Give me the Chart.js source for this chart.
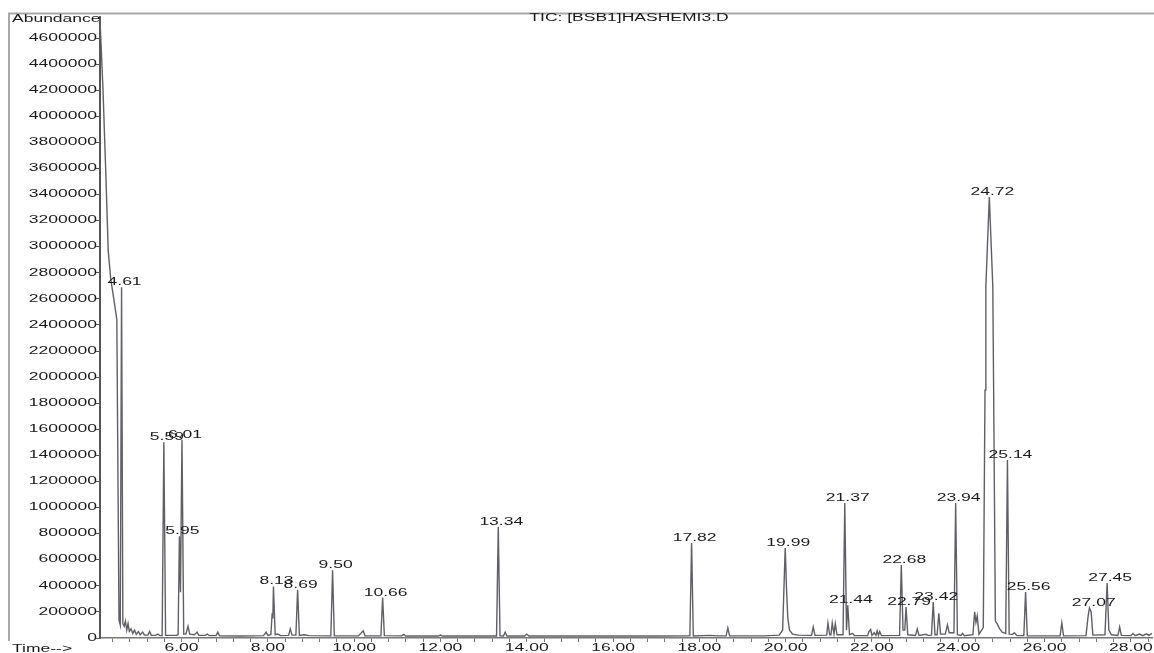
<!DOCTYPE html>
<html>
<head>
<meta charset="utf-8">
<script src="https://cdn.jsdelivr.net/npm/chart.js@4.4.1/dist/chart.umd.min.js"></script>
<style>
html,body{margin:0;padding:0;background:#fff;}
#wrap{width:1154px;height:653px;}
</style>
</head>
<body>
<div id="wrap"><canvas id="tic" width="1154" height="653"></canvas></div>
<script>
/* DATA : retention time (min) / abundance of the TIC trace */
const rt=[
  4.11,4.18,4.25,4.30,4.36,4.43,4.50,4.55,4.58,4.61,4.64,
  4.67,4.70,4.73,4.76,4.79,4.83,4.87,4.91,4.95,5.00,5.04,5.10,5.14,5.22,5.26,5.30,5.40,5.45,5.50,
  5.55,5.59,5.63,
  5.88,5.92,5.95,5.975,6.01,6.05,
  6.10,6.15,6.19,6.30,6.36,6.40,6.55,6.60,6.64,6.80,6.84,6.88,7.40,
  7.90,7.96,8.00,8.07,8.10,8.115,8.13,8.17,8.22,8.30,
  8.48,8.52,8.56,8.65,8.69,8.73,8.85,8.95,
  9.46,9.50,9.54,
  10.10,10.21,10.25,10.62,10.66,10.70,11.10,11.15,11.20,11.95,12.00,12.05,
  13.30,13.34,13.38,13.46,13.50,13.54,13.95,14.00,14.05,17.00,
  17.78,17.82,17.86,18.25,18.40,18.62,18.66,18.70,19.50,
  19.85,19.93,19.96,19.99,20.02,20.05,20.09,20.16,20.30,
  20.60,20.64,20.68,20.95,20.98,21.02,21.05,21.08,21.12,21.15,21.19,
  21.33,21.37,21.41,21.44,21.48,21.55,21.60,
  21.90,21.93,21.97,22.00,22.05,22.09,22.12,22.15,22.18,22.22,
  22.64,22.68,22.72,22.76,22.79,22.83,23.01,23.05,23.09,23.25,23.30,
  23.38,23.42,23.46,23.51,23.55,23.59,23.70,23.75,23.79,23.86,23.90,23.94,23.98,
  24.06,24.10,24.14,24.34,24.38,24.41,24.44,24.48,
  24.58,24.62,24.64,24.72,24.80,24.82,24.86,24.90,24.96,25.02,
  25.10,25.14,25.18,25.26,25.30,25.36,25.52,25.56,25.60,
  26.36,26.40,26.44,26.96,27.01,27.04,27.08,27.12,
  27.40,27.45,27.49,27.55,27.70,27.74,27.78,
  28.00,28.05,28.10,28.20,28.28,28.36,28.42,28.49
];
const abund=[
  4740000,4200000,3510000,2970000,2750000,2600000,2440000,140000,100000,2690000,110000,
  90000,130000,60000,110000,50000,70000,35000,60000,28000,50000,25000,45000,22000,22000,50000,20000,20000,30000,18000,
  18000,1500000,20000,
  20000,25000,780000,350000,1520000,30000,
  30000,90000,30000,25000,45000,20000,20000,30000,18000,18000,45000,16000,15000,
  18000,45000,20000,25000,190000,150000,395000,25000,30000,18000,
  20000,70000,22000,22000,370000,20000,25000,18000,
  16000,520000,16000,
  16000,55000,16000,16000,310000,18000,16000,28000,15000,15000,22000,15000,
  15000,850000,16000,15000,45000,15000,15000,30000,15000,15000,
  16000,728000,16000,20000,16000,16000,77000,16000,16000,
  22000,60000,380000,690000,380000,150000,60000,30000,22000,
  20000,85000,20000,22000,115000,25000,25000,115000,30000,110000,25000,
  25000,1035000,60000,250000,25000,35000,18000,
  18000,50000,65000,20000,40000,20000,55000,20000,50000,18000,
  20000,560000,60000,60000,238000,25000,20000,70000,20000,28000,20000,
  22000,276000,25000,25000,190000,30000,30000,100000,40000,40000,40000,1035000,25000,
  20000,35000,18000,25000,200000,120000,170000,30000,
  80000,1900000,2700000,3380000,2700000,1900000,130000,110000,70000,45000,
  35000,1365000,30000,28000,40000,18000,18000,353000,16000,
  16000,115000,16000,18000,170000,230000,200000,22000,
  25000,421000,60000,25000,20000,85000,20000,
  18000,35000,18000,30000,18000,32000,20000,35000
];

/* labelled peaks */
const peakNames=['4.61','5.59','5.95','6.01','8.13','8.69','9.50','10.66','13.34','17.82','19.99',
  '21.37','21.44','22.68','22.79','23.42','23.94','24.72','25.14','25.56','27.07','27.45'];
const peakRt=[4.61,5.59,5.95,6.01,8.13,8.69,9.50,10.66,13.34,17.82,19.99,
  21.37,21.44,22.68,22.79,23.42,23.94,24.72,25.14,25.56,27.07,27.45];
const peakAbund=[2690000,1500000,780000,1520000,395000,370000,520000,310000,850000,728000,690000,
  1035000,250000,560000,238000,276000,1035000,3380000,1365000,353000,230000,421000];

/* axes */
const yTicks=[0,200000,400000,600000,800000,1000000,1200000,1400000,1600000,1800000,2000000,2200000,
  2400000,2600000,2800000,3000000,3200000,3400000,3600000,3800000,4000000,4200000,4400000,4600000];
const xLabels=[6,8,10,12,14,16,18,20,22,24,26,28];
const xMinor=[4.4,4.8,5.2,5.6,6.0,6.4,6.8,7.2,7.6,8.0,8.4,8.8,9.2,9.6,10.0,10.4,10.8,11.2,11.6,12.0,
  12.4,12.8,13.2,13.6,14.0,14.4,14.8,15.2,15.6,16.0,16.4,16.8,17.2,17.6,18.0,18.4,18.8,19.2,19.6,20.0,
  20.4,20.8,21.2,21.6,22.0,22.4,22.8,23.2,23.6,24.0,24.4,24.8,25.2,25.6,26.0,26.4,26.8,27.2,27.6,28.0,28.4];
const titleText='TIC: [BSB1]HASHEMI3.D';

const FONT='10px "Liberation Sans", Arial, sans-serif';
const SX=1.75; // source image is stretched horizontally

function sText(ctx,str,x,y,align){
  ctx.save();
  ctx.translate(x,y);ctx.scale(SX,1);
  ctx.textAlign=align;ctx.fillText(str,0,0);
  ctx.restore();
}

const textPlugin={
  id:'ticText',
  afterDraw(chart){
    const ctx=chart.ctx,xs=chart.scales.x,ys=chart.scales.y;
    ctx.save();
    // frame
    ctx.strokeStyle='#a8a8a8';ctx.lineWidth=2;
    ctx.beginPath();ctx.moveTo(8,13.5);ctx.lineTo(1154,13.5);ctx.moveTo(9,13);ctx.lineTo(9,641);ctx.stroke();
    ctx.font=FONT;ctx.fillStyle='#1c1c1c';ctx.textBaseline='middle';
    sText(ctx,'Abundance',12,19,'left');
    sText(ctx,titleText,629,18,'center');
    sText(ctx,'Time-->',12,649,'left');
    yTicks.forEach(v=>sText(ctx,String(v),97,ys.getPixelForValue(v),'right'));
    xLabels.forEach(v=>sText(ctx,v.toFixed(2),xs.getPixelForValue(v),648,'center'));
    ctx.textBaseline='alphabetic';
    peakNames.forEach((n,i)=>{
      sText(ctx,n,xs.getPixelForValue(peakRt[i])+3,ys.getPixelForValue(peakAbund[i])-2,'center');
    });
    ctx.restore();
  }
};

new Chart(document.getElementById('tic'),{
  type:'line',
  data:{datasets:[{data:rt.map((t,i)=>({x:t,y:abund[i]})),borderColor:'#5f5f66',borderWidth:1.4,
    pointRadius:0,tension:0,fill:false}]},
  options:{
    responsive:false,animation:false,
    layout:{padding:{top:17,right:2,left:0,bottom:0}},
    plugins:{legend:{display:false},tooltip:{enabled:false}},
    scales:{
      x:{type:'linear',min:4.11,max:28.49,
        afterBuildTicks:s=>{s.ticks=xMinor.map(v=>({value:v}));},
        afterFit:s=>{s.height=15;},
        ticks:{display:false},
        grid:{drawOnChartArea:false,tickLength:4,color:'#777',lineWidth:1},
        border:{color:'#777',width:1.5}},
      y:{min:0,max:4761000,
        afterBuildTicks:s=>{s.ticks=yTicks.map(v=>({value:v}));},
        afterFit:s=>{s.width=100;},
        ticks:{display:false},
        grid:{drawOnChartArea:false,tickLength:4,color:'#555',lineWidth:1},
        border:{color:'#555',width:2}}
    }
  },
  plugins:[textPlugin]
});
</script>
</body>
</html>
